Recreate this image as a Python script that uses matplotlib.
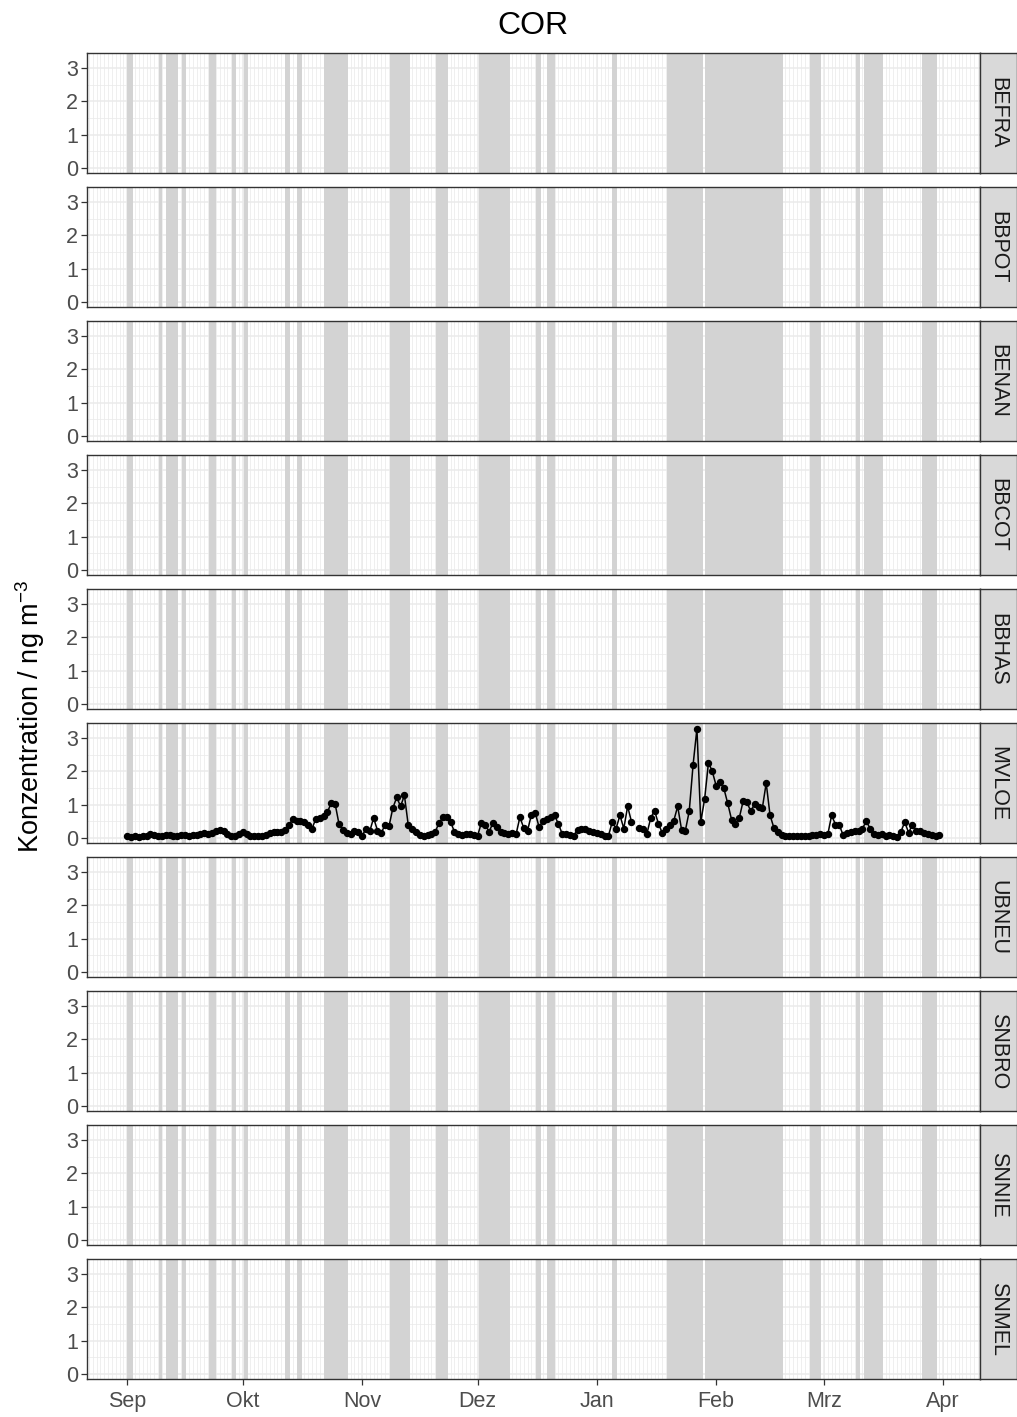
import matplotlib
matplotlib.use("Agg")
import matplotlib.pyplot as plt
import matplotlib.dates as mdates
import numpy as np
import pandas as pd

plt.rcParams['font.family'] = ['Liberation Sans', 'DejaVu Sans']
plt.rcParams['mathtext.fontset'] = 'custom'
plt.rcParams['mathtext.rm'] = 'Liberation Sans'
plt.rcParams['mathtext.it'] = 'Liberation Sans:italic'

# ---------------------------------------------------------------- data
title = "COR"
y_label = "Konzentration / ng m$^{-3}$"
stations = ["BEFRA", "BBPOT", "BENAN", "BBCOT", "BBHAS",
            "MVLOE", "UBNEU", "SNBRO", "SNNIE", "SNMEL"]
station_with_data = "MVLOE"

start_date = "2018-09-01"
# daily COR concentrations at MVLOE, 2018-09-01 ... 2019-03-31 (nan = no sample)
mvloe_values = [
    0.05, 0.03, 0.04, 0.03, 0.05, 0.06, 0.10, 0.07, 0.06, 0.05,
    0.07, 0.08, 0.06, 0.05, 0.07, 0.08, 0.06, 0.07, 0.09, 0.12,
    0.13, 0.12, 0.15, 0.20, 0.25, 0.22, 0.12, 0.06, 0.05, 0.10,
    0.18, 0.10, 0.05, 0.04, 0.05, 0.06, 0.07, 0.15, 0.18, 0.17,
    0.18, 0.25, 0.38, 0.57, 0.52, 0.50, 0.47, 0.40, 0.28, 0.58,
    0.60, 0.65, 0.78, 1.05, 1.02, 0.42, 0.25, 0.15, 0.12, 0.20,
    0.18, 0.05, 0.28, 0.20, 0.60, 0.22, 0.15, 0.40, 0.35, 0.90,
    1.22, 0.95, 1.28, 0.38, 0.28, 0.18, 0.08, 0.06, 0.08, 0.12,
    0.18, 0.45, 0.62, 0.62, 0.48, 0.18, 0.10, 0.08, 0.10, 0.12,
    0.08, 0.06, 0.45, 0.40, 0.18, 0.45, 0.33, 0.18, 0.14, 0.12,
    0.15, 0.10, 0.62, 0.30, 0.22, 0.70, 0.75, 0.32, 0.52, 0.58,
    0.62, 0.68, 0.42, 0.12, 0.10, 0.08, 0.06, 0.25, 0.26, 0.27,
    0.22, 0.18, 0.15, 0.10, 0.06, 0.05, 0.48, 0.28, 0.68, 0.28,
    0.95, 0.48, np.nan, 0.30, 0.26, 0.12, 0.60, 0.82, 0.42, 0.15,
    0.28, 0.38, 0.52, 0.95, 0.25, 0.22, 0.80, 2.20, 3.29, 0.48,
    1.17, 2.27, 2.00, 1.57, 1.67, 1.49, 1.04, 0.55, 0.43, 0.60,
    1.10, 1.07, 0.80, 1.02, 0.92, 0.90, 1.65, 0.68, 0.30, 0.18,
    0.08, 0.05, 0.05, 0.05, 0.06, 0.05, 0.05, 0.06, 0.07, 0.08,
    0.10, 0.09, 0.10, 0.68, 0.40, 0.38, 0.08, 0.15, 0.18, 0.22,
    0.22, 0.28, 0.50, 0.28, 0.10, 0.08, 0.10, 0.06, 0.08, 0.05,
    0.01, 0.18, 0.48, 0.15, 0.40, 0.22, 0.20, 0.15, 0.12, 0.08,
    0.05, 0.08,
]

# shaded periods (identical in every station panel)
band_start = [
    "2018-09-01 00:00", "2018-09-09 04:00", "2018-09-11 00:00", "2018-09-15 03:00",
    "2018-09-22 06:00", "2018-09-28 06:00", "2018-10-01 06:00", "2018-10-12 00:00",
    "2018-10-15 03:00", "2018-10-22 03:00", "2018-11-08 06:00", "2018-11-20 06:00",
    "2018-12-01 09:00", "2018-12-16 03:00", "2018-12-19 03:00", "2019-01-04 21:00",
    "2019-01-19 06:00", "2019-01-29 03:00", "2019-02-25 09:00", "2019-03-09 09:00",
    "2019-03-11 09:00", "2019-03-26 12:00",
]
band_end = [
    "2018-09-02 12:00", "2018-09-10 00:00", "2018-09-14 06:00", "2018-09-16 06:00",
    "2018-09-24 00:00", "2018-09-29 06:00", "2018-10-02 09:00", "2018-10-13 06:00",
    "2018-10-16 09:00", "2018-10-28 09:00", "2018-11-13 12:00", "2018-11-23 09:00",
    "2018-12-09 09:00", "2018-12-17 12:00", "2018-12-21 06:00", "2019-01-06 06:00",
    "2019-01-28 12:00", "2019-02-18 09:00", "2019-02-28 07:00", "2019-03-10 09:00",
    "2019-03-16 09:00", "2019-03-30 09:00",
]

month_ticks = ["2018-09-01", "2018-10-01", "2018-11-01", "2018-12-01",
               "2019-01-01", "2019-02-01", "2019-03-01", "2019-04-01"]
month_labels = ["Sep", "Okt", "Nov", "Dez", "Jan", "Feb", "Mrz", "Apr"]
y_ticks = [0, 1, 2, 3]

# ---------------------------------------------------------------- prep
values = np.array(mvloe_values, dtype=float)
dates = pd.date_range(start_date, periods=len(values), freq="D")
xd = mdates.date2num(dates.to_pydatetime())
bs = mdates.date2num(pd.to_datetime(band_start).to_pydatetime())
be = mdates.date2num(pd.to_datetime(band_end).to_pydatetime())
xt = mdates.date2num(pd.to_datetime(month_ticks).to_pydatetime())

x_lo, x_hi = xd.min(), xd.max()
x_pad = 0.05 * (x_hi - x_lo)
y_lo, y_hi = np.nanmin(values), np.nanmax(values)
y_pad = 0.05 * (y_hi - y_lo)

day_grid = np.arange(np.floor(x_lo - x_pad), np.ceil(x_hi + x_pad) + 1)
y_minor = [0.5, 1.5, 2.5]

# ---------------------------------------------------------------- layout
W, H = 1017, 1417
fig = plt.figure(figsize=(W / 100, H / 100), dpi=100)
fig.patch.set_facecolor("white")

left_px, right_px = 86.7, 980.0
top0_px, pitch_px, ph_px = 53.3, 134.0, 119.6
strip_w_px = 36.5

grid_col = "#EBEBEB"
band_col = "#D3D3D3"
border_col = "#333333"
text_col = "#4D4D4D"
fs_axis = 15.5

for i, st in enumerate(stations):
    top = top0_px + i * pitch_px
    ax = fig.add_axes([left_px / W, 1 - (top + ph_px) / H,
                       (right_px - left_px) / W, ph_px / H])
    ax.set_xlim(x_lo - x_pad, x_hi + x_pad)
    ax.set_ylim(y_lo - y_pad, y_hi + y_pad)

    # grid
    for d in day_grid:
        ax.axvline(d, color=grid_col, lw=0.55, zorder=0)
    for m in xt:
        ax.axvline(m, color=grid_col, lw=1.1, zorder=0)
    for yv in y_minor:
        ax.axhline(yv, color=grid_col, lw=0.55, zorder=0)
    for yv in y_ticks:
        ax.axhline(yv, color=grid_col, lw=1.1, zorder=0)

    # shaded periods
    for a, b in zip(bs, be):
        ax.axvspan(a, b, color=band_col, lw=0, zorder=1)

    if st == station_with_data:
        ax.plot(xd, values, color="black", lw=1.1, zorder=3)
        ax.plot(xd, values, ls="none", marker="o", ms=4.3,
                color="black", zorder=4)

    for s in ax.spines.values():
        s.set_color(border_col)
        s.set_linewidth(1.0)
        s.set_zorder(5)

    ax.set_yticks(y_ticks)
    ax.set_yticklabels([str(v) for v in y_ticks])
    ax.tick_params(axis="y", length=4, width=0.9, color=border_col,
                   labelcolor=text_col, labelsize=fs_axis, pad=2)
    ax.set_xticks(xt)
    if i == len(stations) - 1:
        ax.set_xticklabels(month_labels)
        ax.tick_params(axis="x", length=4, width=0.9, color=border_col,
                       labelcolor=text_col, labelsize=fs_axis, pad=5)
    else:
        ax.tick_params(axis="x", length=0, labelbottom=False)

    # facet strip
    sax = fig.add_axes([right_px / W, 1 - (top + ph_px) / H,
                        strip_w_px / W, ph_px / H])
    sax.set_facecolor("#D9D9D9")
    sax.set_xticks([])
    sax.set_yticks([])
    for s in sax.spines.values():
        s.set_color(border_col)
        s.set_linewidth(1.0)
    sax.text(0.5, 0.5, st, rotation=-90, ha="center", va="center",
             fontsize=fs_axis, color="#1A1A1A", transform=sax.transAxes)

# titles
panels_mid = (top0_px + (top0_px + (len(stations) - 1) * pitch_px + ph_px)) / 2
fig.text((left_px + right_px) / 2 / W, 1 - 26 / H, title, ha="center",
         va="center", fontsize=23, color="black")
fig.text(30 / W, 1 - panels_mid / H, y_label, rotation=90, ha="center",
         va="center", fontsize=19.5, color="black")

fig.savefig("out.png", dpi=100, facecolor="white")
